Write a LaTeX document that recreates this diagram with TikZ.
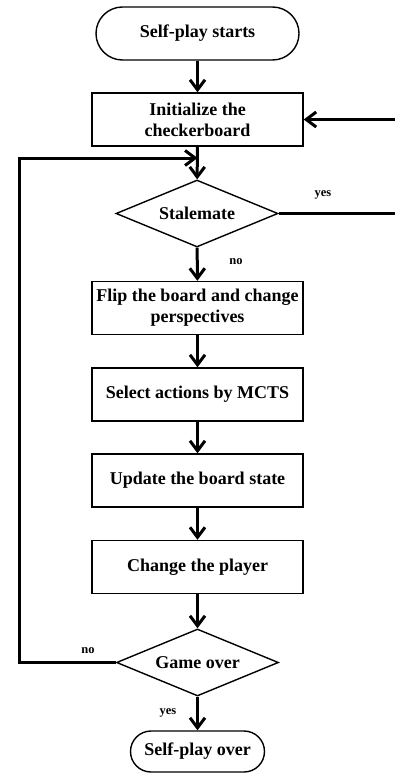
\documentclass[tikz,border=0pt]{standalone}
\usepackage{fontspec}
\setmainfont{Liberation Serif}
\usetikzlibrary{arrows.meta,shapes.geometric}
\begin{document}
\begin{tikzpicture}[x=1pt,y=-1pt,
  txt/.style={font=\bfseries\fontsize{18}{21}\selectfont,align=center,inner sep=0pt},
  box/.style={txt,draw,line width=1.4pt,rectangle,minimum width=211pt,minimum height=53pt},
  term/.style={txt,draw,line width=1.4pt,rectangle},
  dec/.style={txt,draw,line width=1.4pt,diamond,shape aspect=2.4,minimum width=162pt,minimum height=67pt},
  flow/.style={line width=3pt,-{Straight Barb[length=10pt,width=15pt,line width=3pt]}},
  link/.style={line width=3pt},
  lbl/.style={font=\bfseries\fontsize{12.5}{14}\selectfont,inner sep=0pt}
]
\useasboundingbox (0,0) rectangle (395,773);

% process chain
\node[term,minimum width=203pt,minimum height=53pt,rounded corners=26.5pt] (start) at (197.5,33.5) {Self-play starts};
\node[box] (init) at (197.5,119.5) {Initialize the\\checkerboard};
\node[dec] (stale) at (197,213.5) {Stalemate};
\node[box] (flip) at (197.5,308) {Flip the board and change\\perspectives};
\node[box] (select) at (197.5,394.5) {Select actions by MCTS};
\node[box] (update) at (197.5,480.5) {Update the board state};
\node[box] (change) at (197.5,567) {Change the player};
\node[dec] (game) at (197.5,662.5) {Game over};
\node[term,minimum width=134pt,minimum height=41pt,rounded corners=20.5pt] (stop) at (197.5,751.5) {Self-play over};

% helper points for the loops
\coordinate (merge) at (197.5,158);
\coordinate (rtA) at (395,213.5);
\coordinate (rtB) at (395,119.5);

% main flow
\draw[flow] (start) -- (init);
\draw[flow] (init) -- (stale);
\draw[flow] (stale) -- (flip);
\draw[flow] (flip) -- (select);
\draw[flow] (select) -- (update);
\draw[flow] (update) -- (change);
\draw[flow] (change) -- (game);
\draw[flow] (game) -- (stop);

% loops
\draw[flow] (game.west) -- (19,662.5) |- (merge);
\draw[link] (stale.east) -- (rtA);
\draw[flow] (rtB) -- (init.east);

% branch labels
\node[lbl] (yesA) at (323,195) {yes};
\node[lbl] (noA) at (236,262) {no};
\node[lbl] (noB) at (88,651) {no};
\node[lbl] (yesB) at (168,713) {yes};
\end{tikzpicture}
\end{document}
